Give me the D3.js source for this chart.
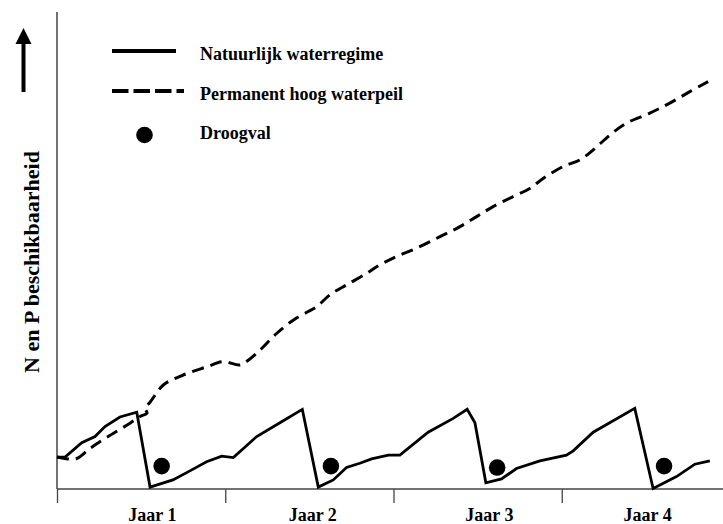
<!DOCTYPE html>
<html>
<head>
<meta charset="utf-8">
<script src="https://cdn.jsdelivr.net/npm/d3@7"></script>
<style>
  html, body { margin: 0; padding: 0; background: #fff; }
  svg { display: block; }
  text { font-family: "Liberation Serif", "Times New Roman", serif; font-weight: bold; fill: #000; }
</style>
</head>
<body>
<svg id="chart" width="723" height="524"></svg>
<script>
// ---- data ----
const yearTicks = [0, 1, 2, 3];
const yearLabels = ["Jaar 1", "Jaar 2", "Jaar 3", "Jaar 4"];
const yearLabelPos = [0.567, 1.52, 2.57, 3.51];

const seriesNames = ["Natuurlijk waterregime", "Permanent hoog waterpeil", "Droogval"];
const yTitle = "N en P beschikbaarheid";

// Natuurlijk waterregime (x in years, y in relative units)
const naturalX = [0, 0.048, 0.147, 0.226, 0.285, 0.374, 0.474, 0.553, 0.689, 0.790, 0.889, 0.979, 1.048, 1.187, 1.325, 1.458, 1.553, 1.642, 1.721, 1.800, 1.870, 1.969, 2.038, 2.206, 2.355, 2.438, 2.484, 2.549, 2.642, 2.731, 2.870, 3.028, 3.068, 3.187, 3.434, 3.543, 3.682, 3.791, 3.880];
const naturalY = [6.7, 6.7, 9.7, 11.0, 13.1, 15.1, 16.1, 0.4, 1.9, 3.8, 5.7, 6.9, 6.6, 11.0, 13.9, 16.7, 0.4, 1.9, 4.5, 5.4, 6.3, 7.1, 7.1, 11.9, 14.8, 16.7, 13.9, 1.3, 2.1, 4.3, 5.9, 7.1, 8.0, 11.9, 16.9, 0.1, 2.6, 5.2, 5.9];

// Permanent hoog waterpeil
const permX = [0, 0.065, 0.117, 0.196, 0.295, 0.434, 0.493, 0.535, 0.523, 0.553, 0.632, 0.750, 0.889, 0.988, 1.087, 1.137, 1.206, 1.305, 1.404, 1.493, 1.543, 1.622, 1.721, 1.840, 1.900, 1.998, 2.137, 2.276, 2.395, 2.494, 2.592, 2.711, 2.810, 2.889, 3.008, 3.108, 3.187, 3.286, 3.385, 3.523, 3.642, 3.761, 3.870];
const permY = [6.7, 6.3, 6.4, 8.5, 10.8, 13.8, 15.2, 15.9, 17.0, 18.2, 21.8, 23.9, 25.6, 26.7, 26.0, 27.0, 29.1, 32.6, 35.4, 37.2, 38.2, 40.7, 42.8, 45.2, 46.6, 48.4, 50.5, 52.9, 55.0, 57.1, 59.2, 61.3, 63.0, 65.1, 67.6, 69.0, 71.1, 74.2, 76.7, 78.8, 80.9, 83.3, 85.4];

// Droogval events
const dryX = [0.622, 1.628, 2.616, 3.608];
const dryY = [4.8, 4.8, 4.5, 4.8];

// ---- layout ----
const svg = d3.select("#chart");
const mLeft = 57, mRight = 730, mTop = 12, mBottom = 489;

const x = d3.scaleLinear().domain([0, 4]).range([mLeft, mRight]);
const y = d3.scaleLinear().domain([0, 100]).range([mBottom, mTop]);

const axisColor = "#444";

// axes
svg.append("line").attr("x1", mLeft).attr("x2", mLeft).attr("y1", mTop).attr("y2", mBottom)
  .attr("stroke", axisColor).attr("stroke-width", 1.5);

const xAxis = d3.axisBottom(x).tickValues(yearTicks).tickFormat("").tickSize(14).tickSizeOuter(0);
const gx = svg.append("g").attr("transform", `translate(0,${mBottom})`).call(xAxis);
gx.select(".domain").attr("stroke", axisColor).attr("stroke-width", 1.5)
  .attr("d", `M${mLeft},0H723`);
gx.selectAll(".tick line").attr("stroke", axisColor).attr("stroke-width", 1.3);

svg.append("g").selectAll("text").data(yearLabels).join("text")
  .attr("x", (d, i) => x(yearLabelPos[i]))
  .attr("y", 521)
  .attr("text-anchor", "middle")
  .style("font-size", "18px")
  .text(d => d);

// y title + arrow
svg.append("text")
  .attr("transform", "translate(39,262) rotate(-90)")
  .attr("text-anchor", "middle")
  .style("font-size", "22px")
  .text(yTitle);

svg.append("line").attr("x1", 23.5).attr("x2", 23.5).attr("y1", 92).attr("y2", 40)
  .attr("stroke", "#000").attr("stroke-width", 4);
svg.append("path").attr("d", "M23.5,28L31.5,44L15.5,44Z").attr("fill", "#000");

// lines
const natural = naturalX.map((d, i) => [d, naturalY[i]]);
const perm = permX.map((d, i) => [d, permY[i]]);

const lineLin = d3.line().x(d => x(d[0])).y(d => y(d[1]));
const lineSmooth = d3.line().x(d => x(d[0])).y(d => y(d[1])).curve(d3.curveCatmullRom.alpha(0.5));

svg.append("path").datum(perm).attr("d", lineSmooth)
  .attr("fill", "none").attr("stroke", "#000").attr("stroke-width", 3)
  .attr("stroke-dasharray", "12,7");

svg.append("path").datum(natural).attr("d", lineLin)
  .attr("fill", "none").attr("stroke", "#000").attr("stroke-width", 2.8)
  .attr("stroke-linejoin", "miter");

svg.append("g").selectAll("circle").data(dryX).join("circle")
  .attr("cx", d => x(d))
  .attr("cy", (d, i) => y(dryY[i]))
  .attr("r", 8.3)
  .attr("fill", "#000");

// legend
const lg = svg.append("g");
lg.append("line").attr("x1", 112).attr("x2", 176).attr("y1", 51).attr("y2", 51)
  .attr("stroke", "#000").attr("stroke-width", 4);
lg.append("line").attr("x1", 112).attr("x2", 184).attr("y1", 91).attr("y2", 91)
  .attr("stroke", "#000").attr("stroke-width", 4).attr("stroke-dasharray", "16.5,5");
lg.append("circle").attr("cx", 144.5).attr("cy", 135).attr("r", 8.3).attr("fill", "#000");
lg.selectAll("text").data(seriesNames).join("text")
  .attr("x", 200)
  .attr("y", (d, i) => [60, 100, 138.5][i])
  .style("font-size", "18px")
  .text(d => d);
</script>
</body>
</html>
